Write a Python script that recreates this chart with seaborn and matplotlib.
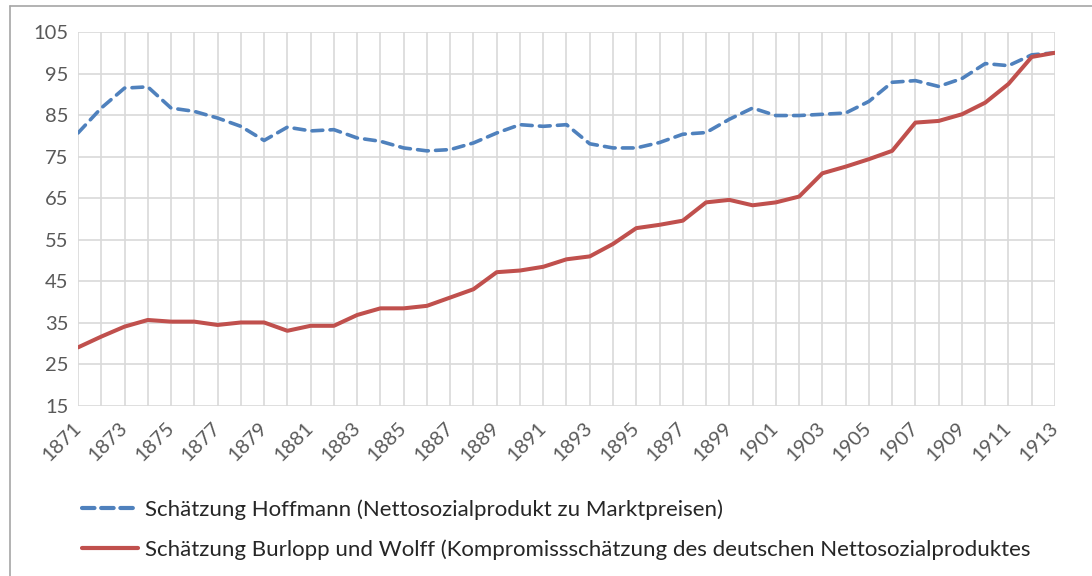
import pandas as pd
import seaborn as sns
import matplotlib.pyplot as plt
from matplotlib.lines import Line2D

years = list(range(1871, 1914))
hoffmann = [80.7, 86.7, 91.5, 91.8, 86.7, 85.9, 84.3, 82.3, 78.9, 82.1,
            81.2, 81.5, 79.5, 78.7, 77.1, 76.4, 76.7, 78.3, 80.7, 82.7,
            82.3, 82.7, 78.1, 77.1, 77.1, 78.4, 80.4, 80.8, 84.0, 86.7,
            84.9, 84.9, 85.2, 85.5, 88.3, 92.9, 93.3, 91.9, 93.8, 97.4,
            96.9, 99.5, 100.0]
burhop = [29.1, 31.7, 34.1, 35.7, 35.3, 35.3, 34.5, 35.1, 35.1, 33.1,
          34.3, 34.3, 36.9, 38.5, 38.5, 39.1, 41.1, 43.1, 47.2, 47.6,
          48.5, 50.3, 51.0, 54.0, 57.8, 58.6, 59.6, 64.0, 64.6, 63.3,
          64.0, 65.4, 71.0, 72.6, 74.4, 76.4, 83.2, 83.6, 85.2, 88.0,
          92.5, 99.0, 100.0]
label_h = 'Schätzung Hoffmann (Nettosozialprodukt zu Marktpreisen)'
label_b = 'Schätzung Burlopp und Wolff (Kompromissschätzung des deutschen Nettosozialproduktes'

blue = '#4F81BD'
red = '#C0504D'

sns.set_style('white')
plt.rcParams['font.family'] = ['Lato', 'DejaVu Sans']

data = pd.DataFrame({'Jahr': years, 'Hoffmann': hoffmann, 'Burlopp': burhop})

fig = plt.figure(figsize=(10.92, 5.76), dpi=100)
ax = fig.add_axes([78 / 1092, 1 - 406 / 576, (1055 - 78) / 1092, (406 - 32) / 576])

sns.lineplot(data=data, x='Jahr', y='Hoffmann', ax=ax, color=blue, lw=2.6,
             dashes=False, linestyle=(0, (3, 2.0)), dash_capstyle='round')
sns.lineplot(data=data, x='Jahr', y='Burlopp', ax=ax, color=red, lw=2.9,
             solid_capstyle='round', solid_joinstyle='round')

ax.set_xlim(1871, 1913)
ax.set_ylim(15, 105)
ax.set_yticks(range(15, 106, 10))
ax.set_xticks(years)
ax.set_xticklabels([str(y) if y % 2 == 1 else '' for y in years],
                   rotation=45, ha='right', va='center', rotation_mode='anchor')
ax.grid(True, color='#D9D9D9', lw=1.2)
ax.set_axisbelow(True)
for s in ax.spines.values():
    s.set_visible(False)
ax.tick_params(axis='both', length=0, labelsize=14.5, colors='#595959', pad=7)
ax.tick_params(axis='x', pad=14)
ax.set_xlabel('')
ax.set_ylabel('')

handles = [Line2D([], [], color=blue, lw=3, linestyle=(0, (3, 1.6)), dash_capstyle='round'),
           Line2D([], [], color=red, lw=3)]
fig.legend(handles, [label_h, label_b], loc='upper left', bbox_to_anchor=(82 / 1092, 1 - 499 / 576),
           frameon=False, fontsize=16, handlelength=2.5, handletextpad=0.35,
           labelspacing=0.9, borderaxespad=0, borderpad=0)

# chart border (cropped on the right and bottom)
fig.add_artist(Line2D([10 / 1092, 10 / 1092], [0, 1 - 6 / 576], color='#A6A6A6', lw=1.2))
fig.add_artist(Line2D([10 / 1092, 1], [1 - 6 / 576, 1 - 6 / 576], color='#A6A6A6', lw=1.2))

fig.savefig('out.png', dpi=100)
